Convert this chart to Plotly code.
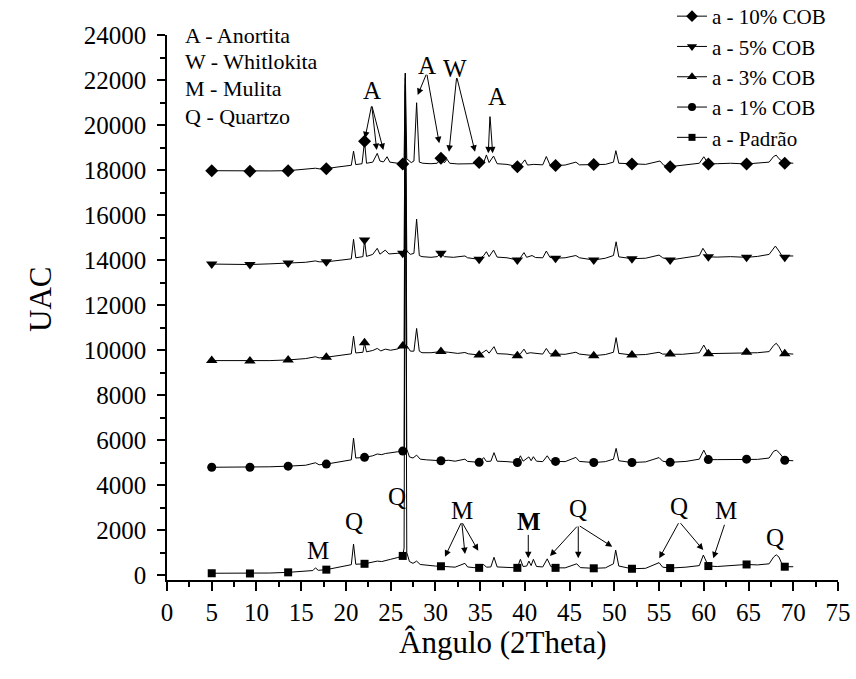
import plotly.graph_objects as go

# ---------------- data ----------------
marker_x = [5.0, 9.27, 13.54, 17.81, 22.08, 26.35, 30.62, 34.89, 39.16, 43.43,
            47.7, 51.97, 56.24, 60.51, 64.78, 69.05]

padrao_x = [5.0, 7.0, 9.27, 11.5, 13.54, 15.5, 16.3, 16.6, 16.9, 17.81, 19.0, 20.3, 20.6, 20.85, 21.1,
            22.08, 23.0, 23.5, 24.0, 24.4, 25.0, 25.8, 26.35, 26.5, 26.64, 26.8, 27.1, 27.5, 27.9, 28.3,
            29.0, 30.0, 30.62, 31.5, 32.2, 33.3, 33.6, 34.3, 34.89, 35.4, 35.7, 36.2, 36.55, 36.9, 38.0,
            39.16, 39.5, 39.8, 40.2, 40.45, 40.7, 40.95, 41.3, 42.0, 42.5, 42.9, 43.43, 44.5, 45.8, 46.2,
            47.7, 49.0, 49.9, 50.15, 50.5, 51.97, 53.5, 55.0, 55.4, 56.24, 58.0, 59.5, 59.95, 60.51, 61.5,
            63.0, 64.78, 66.0, 67.3, 67.8, 68.1, 68.4, 68.8, 69.05, 69.5, 70.0]
padrao_y = [80, 75, 70, 90, 120, 170, 200, 320, 210, 240, 330, 420, 460, 1380, 480,
            500, 560, 620, 600, 650, 700, 780, 850, 1200, 22300, 1000, 600, 520, 620, 470,
            430, 400, 390, 380, 350, 520, 360, 330, 320, 470, 350, 360, 790, 360, 340,
            320, 700, 380, 400, 620, 420, 700, 380, 360, 720, 380, 320, 320, 500, 330,
            300, 320, 500, 1110, 400, 280, 300, 550, 350, 310, 350, 420, 890, 400, 380,
            420, 470, 450, 500, 800, 900, 800, 430, 370, 380, 370]

cob1_x = [5.0, 7.0, 9.27, 11.5, 13.54, 15.5, 16.6, 17.0, 17.81, 19.0, 20.3, 20.6, 20.85, 21.1,
          22.08, 23.0, 23.5, 24.0, 24.4, 25.0, 25.8, 26.35, 26.5, 26.64, 26.8, 27.1, 27.5, 27.9, 28.3,
          29.0, 30.62, 31.5, 32.2, 33.3, 33.6, 34.89, 35.4, 35.7, 36.2, 36.55, 36.9, 38.0,
          39.16, 39.5, 39.8, 40.45, 40.7, 40.95, 41.3, 42.0, 42.5, 42.9, 43.43, 44.5, 45.7, 46.1,
          47.7, 49.0, 49.9, 50.2, 50.5, 51.97, 53.5, 55.0, 55.4, 56.24, 58.0, 59.5, 60.0, 60.51,
          61.5, 63.0, 64.78, 66.0, 67.3, 67.8, 68.1, 68.4, 68.8, 69.05, 69.5, 70.0]
cob1_y = [4790, 4790, 4790, 4810, 4840, 4880, 4990, 4900, 4930, 5000, 5100, 5120, 6090, 5200,
          5230, 5300, 5380, 5350, 5400, 5420, 5480, 5510, 5700, 22100, 5600, 5250, 5200, 5330, 5150,
          5120, 5080, 5100, 5060, 5150, 5050, 5010, 5220, 5050, 5060, 5440, 5060, 5040,
          5000, 5300, 5060, 5250, 5080, 5260, 5060, 5040, 5300, 5060, 5050, 5040, 5230, 5050,
          5000, 5040, 5150, 5630, 5080, 5000, 5030, 5220, 5060, 5010, 5050, 5150, 5550, 5130,
          5130, 5130, 5150, 5140, 5200, 5500, 5550, 5450, 5250, 5100, 5090, 5080]

cob3_x = [5.0, 7.0, 9.27, 11.5, 13.54, 15.5, 16.6, 17.0, 17.81, 19.0, 20.3, 20.6, 20.85, 21.1,
          21.9, 22.08, 22.3, 23.0, 23.5, 23.9, 24.4, 25.0, 25.8, 26.35, 26.5, 26.64, 26.8, 27.2,
          27.6, 27.9, 28.2, 28.5, 29.5, 30.62, 31.5, 32.5, 33.3, 33.7, 34.89, 35.4, 35.7, 36.0,
          36.55, 36.9, 38.0, 39.16, 39.5, 39.9, 40.2, 40.6, 41.0, 41.4, 42.0, 42.4, 42.8, 43.43,
          44.5, 45.7, 46.1, 47.7, 49.0, 49.9, 50.2, 50.5, 51.97, 53.5, 55.0, 55.4, 56.24, 57.2,
          57.6, 59.5, 60.0, 60.51, 61.5, 63.0, 64.78, 66.0, 67.3, 67.8, 68.1, 68.4, 68.8, 69.05,
          69.5, 70.0]
cob3_y = [9530, 9520, 9510, 9530, 9560, 9620, 9700, 9650, 9680, 9750, 9810, 9830, 10620, 9870,
          9900, 10320, 9920, 9980, 10070, 9960, 10040, 9990, 10050, 10180, 10400, 21500, 10200, 9950,
          9950, 10960, 9950, 9880, 9880, 9930, 9900, 9850, 9890, 9830, 9780, 9900, 10000, 9860,
          10150, 9840, 9820, 9750, 9830, 10040, 9840, 9880, 9870, 9830, 9820, 10070, 9830, 9820,
          9810, 9900, 9820, 9750, 9800, 9900, 10550, 9850, 9780, 9800, 9900, 9820, 9820, 9840,
          9810, 9880, 10220, 9840, 9850, 9870, 9900, 9880, 9930, 10200, 10300, 10150, 9850, 9840,
          9830, 9820]

cob5_x = [5.0, 7.0, 9.27, 11.5, 13.54, 15.5, 16.6, 17.0, 17.81, 19.0, 20.3, 20.6, 20.85, 21.1,
          21.9, 22.08, 22.3, 23.0, 23.5, 23.8, 24.4, 24.8, 25.8, 26.35, 26.5, 26.64, 26.8, 27.2,
          27.6, 27.9, 28.2, 28.5, 29.5, 30.2, 30.62, 31.0, 32.0, 33.3, 33.6, 34.89, 35.4, 35.7,
          36.0, 36.5, 36.9, 38.0, 39.16, 39.5, 39.9, 40.2, 40.8, 41.2, 42.0, 42.4, 42.8, 43.43,
          44.5, 45.7, 46.1, 47.7, 49.0, 49.9, 50.2, 50.5, 51.97, 53.5, 55.0, 55.4, 56.24, 58.0,
          59.5, 59.9, 60.51, 61.5, 63.0, 64.78, 66.0, 67.3, 67.8, 68.0, 68.4, 68.8, 69.05, 69.5, 70.0]
cob5_y = [13820, 13810, 13800, 13830, 13870, 13900, 13960, 13920, 13920, 13980, 14030, 14050, 14920, 14100,
          14150, 14890, 14160, 14250, 14520, 14260, 14440, 14270, 14300, 14300, 14500, 21800, 14400, 14250,
          14300, 15820, 14200, 14150, 14120, 14150, 14300, 14150, 14120, 14180, 14100, 14030, 14200, 14370,
          14150, 14440, 14130, 14100, 14000, 14100, 14330, 14120, 14200, 14110, 14100, 14400, 14120, 14080,
          14100, 14200, 14100, 14000, 14080, 14200, 14810, 14140, 14060, 14080, 14220, 14100, 14000, 14100,
          14200, 14520, 14140, 14130, 14150, 14120, 14160, 14250, 14550, 14620, 14400, 14150, 14120, 14180, 14180]

cob10_x = [5.0, 7.0, 9.27, 11.5, 13.54, 15.5, 16.6, 17.0, 17.81, 19.0, 20.3, 20.6, 20.85, 21.1,
           21.8, 22.08, 22.3, 23.0, 23.5, 23.8, 24.2, 24.6, 24.9, 25.8, 26.35, 26.5, 26.64, 26.8,
           27.3, 27.6, 27.9, 28.2, 28.6, 29.5, 30.2, 30.62, 31.0, 31.3, 31.6, 32.5, 33.5, 34.2,
           34.89, 35.4, 35.7, 36.0, 36.5, 36.9, 38.0, 39.16, 39.5, 40.0, 40.3, 41.0, 42.0, 42.4,
           42.8, 43.43, 44.5, 45.7, 46.1, 47.7, 49.0, 49.9, 50.17, 50.5, 51.97, 53.5, 55.1, 55.5,
           56.24, 58.0, 59.5, 60.0, 60.51, 61.5, 63.0, 64.78, 66.0, 67.3, 67.8, 68.1, 68.4, 68.8,
           69.05, 69.5, 70.0]
cob10_y = [17970, 17960, 17950, 17960, 17970, 18020, 18080, 18050, 18060, 18130, 18190, 18210, 18840, 18240,
           18280, 19280, 18300, 18350, 18740, 18400, 18360, 18590, 18350, 18300, 18270, 18500, 22300, 18500,
           18330, 18400, 20990, 18350, 18300, 18280, 18300, 18520, 18320, 18480, 18300, 18270, 18260, 18280,
           18330, 18330, 18670, 18330, 18620, 18280, 18250, 18150, 18200, 18450, 18220, 18250, 18230, 18600,
           18230, 18200, 18220, 18350, 18230, 18240, 18250, 18350, 18860, 18300, 18270, 18250, 18400, 18220,
           18150, 18220, 18300, 18590, 18270, 18280, 18300, 18270, 18300, 18350, 18600, 18660, 18500, 18350,
           18300, 18320, 18300]

series_names = ["a - 10% COB", "a - 5% COB", "a - 3% COB", "a - 1% COB", "a - Padrão"]
series_symbols = ["diamond", "triangle-down", "triangle-up", "circle", "square"]
series_sizes = [10, 10, 10, 9, 8]
series_x = [cob10_x, cob5_x, cob3_x, cob1_x, padrao_x]
series_y = [cob10_y, cob5_y, cob3_y, cob1_y, padrao_y]

key_lines = ["A - Anortita", "W - Whitlokita", "M - Mulita", "Q - Quartzo"]
key_y = [24000, 22810, 21630, 20370]

# phase labels: (text, x, y, bold)
phase_labels = [("A", 22.88, 21550, False), ("A", 29.03, 22660, False), ("W", 32.2, 22520, False),
                ("A", 36.85, 21260, False),
                ("M", 16.91, 1110, False), ("Q", 20.9, 2370, False), ("Q", 25.67, 3480, False),
                ("M", 32.94, 2890, False), ("M", 40.49, 2370, True), ("Q", 45.97, 2960, False),
                ("Q", 57.26, 3030, False), ("M", 62.48, 2890, False), ("Q", 67.96, 1680, False)]
# arrows: (tail_x, tail_y, tip_x, tip_y)
phase_arrows = [(22.88, 20890, 22.13, 19410), (22.88, 20890, 23.44, 18890), (22.88, 20890, 24.18, 18890),
                (29.03, 22300, 28.02, 21330), (29.03, 22300, 30.43, 19190),
                (32.38, 22150, 31.52, 18810), (32.38, 22150, 34.43, 18810),
                (36.1, 20440, 35.91, 18740), (36.1, 20440, 36.4, 18740),
                (32.94, 2370, 31.07, 813), (32.94, 2370, 33.31, 933), (32.94, 2370, 34.79, 1080),
                (40.38, 1850, 40.38, 742),
                (45.97, 2220, 42.81, 844), (45.97, 2220, 45.97, 742), (45.97, 2220, 49.77, 1260),
                (57.26, 2370, 55.02, 742), (57.26, 2370, 59.94, 1110),
                (62.37, 2300, 61.06, 742)]

FONT = "Liberation Serif, Times New Roman, Times, serif"

fig = go.Figure()

# legend-only entries
for name, sym, sz in zip(series_names, series_symbols, series_sizes):
    fig.add_trace(go.Scatter(x=[None], y=[None], mode="lines+markers", name=name,
                             line=dict(color="black", width=1),
                             marker=dict(symbol=sym, size=sz - 1, color="black")))

for name, sym, sz, xs, ys in zip(series_names, series_symbols, series_sizes, series_x, series_y):
    fig.add_trace(go.Scatter(x=xs, y=ys, mode="lines", showlegend=False,
                             line=dict(color="black", width=1)))
    mx = [x for x in xs if x in marker_x]
    my = [y for x, y in zip(xs, ys) if x in marker_x]
    fig.add_trace(go.Scatter(x=mx, y=my, mode="markers", showlegend=False,
                             marker=dict(symbol=sym, size=sz, color="black")))

annotations = []
for t, yy in zip(key_lines, key_y):
    annotations.append(dict(text=t, x=1.84, y=yy, xref="x", yref="y", showarrow=False,
                            xanchor="left", yanchor="middle", font=dict(family=FONT, size=22, color="black")))
for t, xx, yy, bold in phase_labels:
    annotations.append(dict(text=("<b>%s</b>" % t) if bold else t, x=xx, y=yy, xref="x", yref="y",
                            showarrow=False, xanchor="center", yanchor="middle",
                            font=dict(family=FONT, size=25, color="black")))
for tx, ty, hx, hy in phase_arrows:
    annotations.append(dict(text="", x=hx, y=hy, ax=tx, ay=ty, xref="x", yref="y",
                            axref="x", ayref="y", showarrow=True, arrowhead=2, arrowsize=1.3,
                            arrowwidth=1, arrowcolor="black", standoff=0, startstandoff=0))

W, H = 856, 679
L, R, T, B = 167, 18, 35, 99
pw, ph = W - L - R, H - T - B

# axis titles (pixel centres converted to paper coords)
annotations.append(dict(text="UAC", x=(40 - L) / pw, y=(H - B - 300) / ph, xref="paper", yref="paper",
                        showarrow=False, textangle=-90, xanchor="center", yanchor="middle",
                        font=dict(family=FONT, size=31, color="black")))
annotations.append(dict(text="Ângulo (2Theta)", x=(502 - L) / pw, y=(H - B - 642) / ph, xref="paper",
                        yref="paper", showarrow=False, xanchor="center", yanchor="middle",
                        font=dict(family=FONT, size=31, color="black")))

fig.update_layout(
    width=W, height=H,
    margin=dict(l=L, r=R, t=T, b=B, autoexpand=False),
    paper_bgcolor="white", plot_bgcolor="white",
    font=dict(family=FONT, size=24, color="black"),
    annotations=annotations,
    legend=dict(x=(672 - L) / pw, y=(H - B + 4) / ph, xanchor="left", yanchor="top",
                font=dict(family=FONT, size=21, color="black"), bgcolor="rgba(0,0,0,0)",
                tracegroupgap=0),
    showlegend=True,
)
fig.update_xaxes(range=[0, 75], dtick=5, tick0=0, showline=True, linecolor="black", linewidth=1.5,
                 ticks="outside", ticklen=9, tickwidth=1.5, tickcolor="black", showgrid=False,
                 zeroline=False, tickfont=dict(family=FONT, size=25, color="black"),
                 minor=dict(dtick=2.5, ticks="outside", ticklen=5, tickwidth=1.5, tickcolor="black",
                            showgrid=False))
fig.update_yaxes(range=[-220, 24000], dtick=2000, tick0=0, tickformat="d", showline=True,
                 linecolor="black", linewidth=1.5, ticks="outside", ticklen=8, tickwidth=1.5,
                 tickcolor="black", showgrid=False, zeroline=False,
                 tickfont=dict(family=FONT, size=25, color="black"), ticklabelstandoff=6,
                 minor=dict(dtick=1000, ticks="outside", ticklen=5, tickwidth=1.5, tickcolor="black",
                            showgrid=False))

fig.write_html("out.html")
